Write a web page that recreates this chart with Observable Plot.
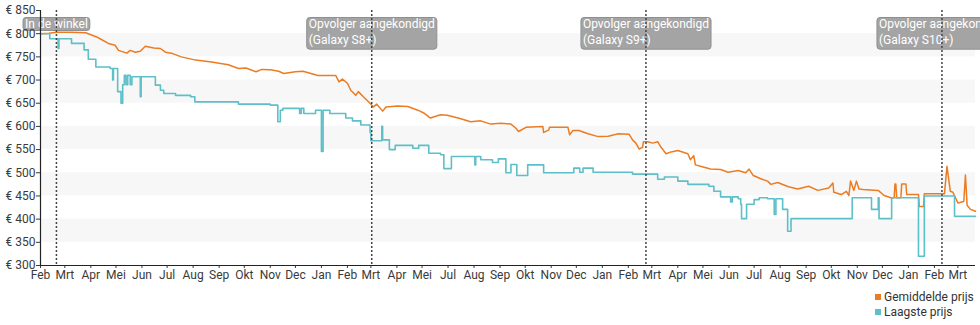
<!DOCTYPE html>
<html><head><meta charset="utf-8">
<script src="https://cdn.jsdelivr.net/npm/d3@7"></script>
<script src="https://cdn.jsdelivr.net/npm/@observablehq/plot@0.6"></script>
<style>
html,body{margin:0;padding:0;background:#fff;font-family:Roboto,sans-serif;}
#chart{width:980px;height:285px;}
#legend{position:relative;width:980px;height:40px;}
#legend .rows{position:absolute;left:875px;top:4.5px;font-size:12px;line-height:15px;color:#333;}
#legend .sw{display:inline-block;width:6px;height:6px;margin-right:3px;vertical-align:1px;}
</style></head><body>
<div id="chart"></div>
<div id="legend"><div class="rows"></div></div>
<script>
// ---------- data ----------
const seriesNames = ["Gemiddelde prijs", "Laagste prijs"];
const seriesColors = ["#ec7c22", "#5dbfc7"];

const avgPrices = [
["2016-02-01",800],["2016-02-11",801],["2016-02-20",803],["2016-03-08",803],["2016-03-26",802],["2016-03-29",800],
["2016-04-08",793],["2016-04-13",788],["2016-04-22",779],["2016-04-30",775],["2016-05-04",764],["2016-05-14",758],
["2016-05-18",764],["2016-05-24",760],["2016-05-30",762],["2016-06-05",773],["2016-06-15",769],["2016-06-23",768],
["2016-06-29",760],["2016-07-06",758],["2016-07-18",750],["2016-08-04",743],["2016-08-23",739],["2016-09-12",733],
["2016-09-24",725],["2016-10-03",726],["2016-10-15",718],["2016-10-22",723],["2016-11-01",722],["2016-11-11",719],
["2016-11-17",714],["2016-12-01",718],["2016-12-10",719],["2016-12-28",710],["2017-01-12",710],["2017-01-18",710],
["2017-01-22",696],["2017-01-26",702],["2017-02-01",693],["2017-02-05",678],["2017-02-11",667],["2017-02-14",675],
["2017-02-20",664],["2017-02-28",650],["2017-03-04",642],["2017-03-08",648],["2017-03-15",633],["2017-03-19",642],
["2017-04-02",644],["2017-04-14",643],["2017-04-26",635],["2017-05-03",629],["2017-05-11",618],["2017-05-23",625],
["2017-05-31",624],["2017-07-13",618],["2017-07-28",610],["2017-08-09",612],["2017-08-21",605],["2017-09-02",607],
["2017-09-14",605],["2017-09-20",596],["2017-09-23",589],["2017-10-02",598],["2017-10-22",600],["2017-10-23",587],
["2017-10-29",592],["2017-10-30",598],["2017-11-21",598],["2017-11-23",582],["2017-11-27",591],["2017-12-04",591],
["2017-12-15",584],["2017-12-27",578],["2018-01-08",579],["2018-01-20",584],["2018-02-02",583],["2018-02-06",571],
["2018-02-10",564],["2018-02-14",551],["2018-02-18",555],["2018-02-19",567],["2018-02-24",567],["2018-03-02",564],
["2018-03-08",567],["2018-03-12",555],["2018-03-18",541],["2018-03-24",545],["2018-04-01",548],["2018-04-13",541],
["2018-04-16",528],["2018-04-20",537],["2018-04-22",517],["2018-04-28",514],["2018-05-10",508],["2018-05-22",507],
["2018-05-31",501],["2018-06-12",505],["2018-06-21",500],["2018-06-25",508],["2018-06-30",494],["2018-07-09",487],
["2018-07-17",482],["2018-07-21",475],["2018-07-29",479],["2018-08-11",470],["2018-08-22",465],["2018-09-04",471],
["2018-09-15",462],["2018-09-28",467],["2018-10-03",478],["2018-10-04",458],["2018-10-13",453],["2018-10-19",460],
["2018-10-22",451],["2018-10-24",482],["2018-10-28",462],["2018-10-31",482],["2018-11-03",465],["2018-11-08",464],
["2018-11-26",462],["2018-12-03",451],["2018-12-11",446],["2018-12-15",446],["2018-12-16",476],["2018-12-17",476],
["2018-12-18",446],["2018-12-23",446],["2018-12-24",476],["2018-12-29",476],["2018-12-30",453],["2019-01-13",453],
["2019-01-14",427],["2019-01-19",427],["2019-01-20",455],["2019-02-13",455],["2019-02-16",514],["2019-02-20",460],
["2019-02-23",458],["2019-03-01",435],["2019-03-08",438],["2019-03-10",495],["2019-03-12",430],["2019-03-16",421],
["2019-03-22",417]
];

const lowPrices = [
["2016-02-01",800],["2016-02-12",789],["2016-02-22",768],["2016-02-23",789],["2016-03-09",779],["2016-03-24",765],
["2016-03-29",745],["2016-04-07",728],["2016-04-24",725],["2016-04-27",700],["2016-04-28",725],["2016-05-03",675],
["2016-05-07",650],["2016-05-09",690],["2016-05-11",710],["2016-05-13",690],["2016-05-15",710],["2016-05-18",690],
["2016-05-20",707],["2016-05-30",664],["2016-05-31",707],["2016-06-17",689],["2016-06-23",678],["2016-06-27",671],
["2016-07-11",667],["2016-07-29",664],["2016-08-03",653],["2016-09-24",648],["2016-11-01",646],["2016-11-10",610],
["2016-11-13",635],["2016-11-16",639],["2016-12-06",628],["2016-12-08",639],["2016-12-11",628],["2016-12-25",635],
["2017-01-01",546],["2017-01-03",635],["2017-01-11",628],["2017-01-30",618],["2017-02-07",612],["2017-02-17",603],
["2017-02-28",587],["2017-03-01",569],["2017-03-14",600],["2017-03-15",571],["2017-03-23",550],["2017-03-30",559],
["2017-04-20",553],["2017-04-27",559],["2017-05-09",542],["2017-05-23",539],["2017-05-27",509],["2017-07-05",535],
["2017-08-02",517],["2017-08-03",535],["2017-08-09",528],["2017-08-23",522],["2017-08-30",530],["2017-09-08",500],
["2017-09-14",518],["2017-09-21",494],["2017-10-04",517],["2017-10-23",500],["2017-11-28",510],["2017-12-05",501],
["2017-12-09",510],["2017-12-21",501],["2018-02-06",497],["2018-03-08",486],["2018-03-16",491],["2018-04-01",482],
["2018-04-13",475],["2018-05-08",471],["2018-05-14",460],["2018-05-22",448],["2018-06-03",437],["2018-06-05",448],
["2018-06-12",444],["2018-06-15",432],["2018-06-16",401],["2018-06-22",432],["2018-07-01",442],["2018-07-07",446],
["2018-07-17",444],["2018-07-25",410],["2018-07-27",444],["2018-08-04",421],["2018-08-10",374],["2018-08-14",401],
["2018-10-26",446],["2018-11-18",421],["2018-11-26",446],["2018-11-27",401],["2018-12-12",446],["2019-01-13",320],
["2019-01-20",450],["2019-02-25",406],["2019-03-22",406]
];

const eventDates = ["2016-02-20", "2017-03-02", "2018-02-22", "2019-02-10"];
const eventLabels = ["In de winkel", "Opvolger aangekondigd\n(Galaxy S8+)", "Opvolger aangekondigd\n(Galaxy S9+)", "Opvolger aangekondigd\n(Galaxy S10+)"];

const monthLabels = ["Jan","Feb","Mrt","Apr","Mei","Jun","Jul","Aug","Sep","Okt","Nov","Dec"];
const yTicks = [300,350,400,450,500,550,600,650,700,750,800,850];
const bandStarts = [350,450,550,650,750];
const xStart = "2016-02-01", xEnd = "2019-03-22";
const missingFrom = "2017-06-01", missingTo = "2017-07-01"; // no data in this month: axis skips it

// ---------- index axis (chart skips the month without data) ----------
const parse = d3.utcParse("%Y-%m-%d");
const DAY = 864e5;
const t0 = +parse(xStart), g0 = +parse(missingFrom), g1 = +parse(missingTo);
function chartDay(date) {
  let t = +date;
  if (t >= g1) t -= (g1 - g0); else if (t > g0) t = g0;
  return Math.round((t - t0) / DAY);
}
const months = d3.utcMonth.range(parse(xStart), d3.utcDay.offset(parse(xEnd), 1));
const tickLabel = new Map();
for (const m of months) tickLabel.set(chartDay(m), monthLabels[m.getUTCMonth()]); // later month wins on collision
const xTicks = [...tickLabel.keys()];

const avg = avgPrices.map(([d, v]) => ({day: chartDay(parse(d)), price: v}));
const low = lowPrices.map(([d, v]) => ({day: chartDay(parse(d)), price: v}));
const events = eventDates.map((d, i) => ({day: chartDay(parse(d)), label: eventLabels[i]}));

const plot = Plot.plot({
  width: 980, height: 285,
  marginLeft: 40, marginRight: 5, marginTop: 10, marginBottom: 20,
  x: {domain: [chartDay(parse(xStart)), chartDay(parse(xEnd))], label: null},
  y: {domain: [300, 850], label: null},
  style: {fontFamily: "Roboto, sans-serif", fontSize: "12px", color: "#3a3a3a", background: "#fff", overflow: "visible"},
  marks: [
    Plot.rect(bandStarts, {y1: d => d, y2: d => d + 50, fill: "#f7f7f7"}),
    Plot.line(avg, {x: "day", y: "price", stroke: seriesColors[0], strokeWidth: 1.5}),
    Plot.line(low, {x: "day", y: "price", curve: "step-after", stroke: seriesColors[1], strokeWidth: 1.6}),
    Plot.text(events, {x: "day", frameAnchor: "top", dy: 5.5, text: "label", textAnchor: "start", lineAnchor: "top",
      lineHeight: 1.35, fill: "white", fontSize: 12}),
    Plot.ruleX(events, {x: "day", stroke: "#444", strokeWidth: 1.5, strokeDasharray: "2,2"}),
    Plot.axisY(yTicks, {tickFormat: d => "€ " + d, tickSize: 4, tickPadding: 1, fontSize: 12, label: null}),
    Plot.axisX(xTicks, {tickFormat: d => tickLabel.get(d), tickSize: 3, tickPadding: 2, fontSize: 12, label: null}),
    Plot.ruleY([300], {stroke: "#222", strokeWidth: 1.2}),
    Plot.ruleX([chartDay(parse(xStart))], {stroke: "#222", strokeWidth: 1.2})
  ]
});
document.getElementById("chart").append(plot);

// label boxes behind the event texts
const wanted = new Set(eventLabels.map(s => s.replace(/\n/g, "")));
plot.querySelectorAll("text").forEach(t => {
  if (!wanted.has(t.textContent.replace(/\n/g, ""))) return;
  const b = t.getBBox();
  const tr = (t.getAttribute("transform") || "") + ` translate(${(-b.width / 2).toFixed(1)},0)`;
  t.setAttribute("transform", tr);
  const n = Math.max(1, t.querySelectorAll("tspan").length);
  const r = document.createElementNS("http://www.w3.org/2000/svg", "rect");
  r.setAttribute("transform", tr);
  r.setAttribute("x", b.x - 2);
  r.setAttribute("y", b.y + 1);
  r.setAttribute("width", b.width + 4);
  r.setAttribute("height", b.height - 1 + 2.5 * (n - 1));
  r.setAttribute("rx", 3);
  r.setAttribute("fill", "#a4a4a4");
  r.setAttribute("stroke", "#909090");
  r.setAttribute("stroke-width", 1);
  t.parentNode.insertBefore(r, t);
});

// legend
const rows = document.querySelector("#legend .rows");
seriesNames.forEach((name, i) => {
  const div = document.createElement("div");
  const sw = document.createElement("span");
  sw.className = "sw"; sw.style.background = seriesColors[i];
  div.append(sw, name);
  rows.append(div);
});
</script>
</body></html>
